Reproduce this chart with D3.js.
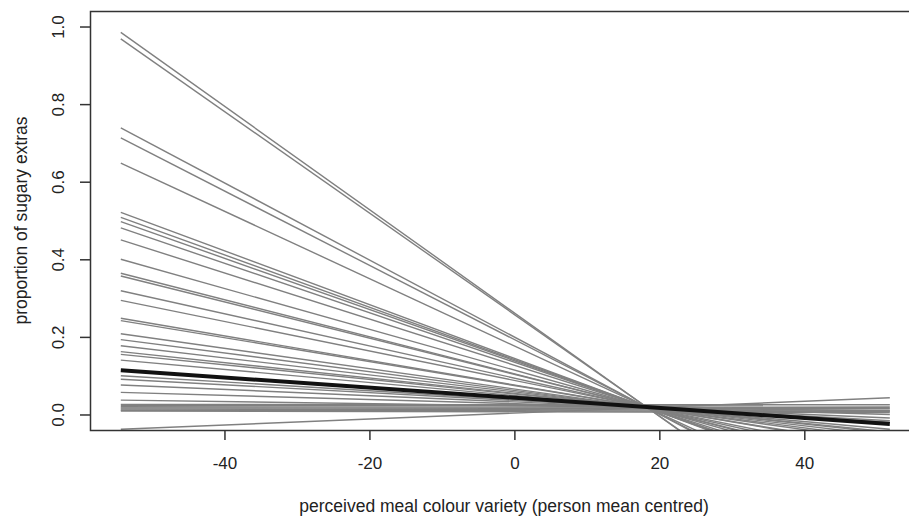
<!DOCTYPE html>
<html>
<head>
<meta charset="utf-8">
<script src="https://cdn.jsdelivr.net/npm/d3@7"></script>
<style>
    body { margin: 0; background: #fff; }
    svg text { font-family: "Liberation Sans", Arial, sans-serif; fill: #222; }
</style>
</head>
<body>
<div id="chart"></div>
<script>

// x positions where every person line starts and ends
var lineX = [-54.3, 51.8];

// predicted proportion at the left end of each person line
var personStart = [
    0.985, 0.968, 0.739, 0.713, 0.648, 0.521, 0.508, 0.497, 0.481, 0.450,
    0.400, 0.364, 0.357, 0.319, 0.294, 0.248, 0.242, 0.208, 0.193, 0.177,
    0.162, 0.155, 0.140, 0.100, 0.091, 0.076, 0.057, 0.037,
    0.026, 0.023, 0.020, 0.017, 0.014, 0.011, 0.009, -0.038
];

// predicted proportion at the right end of each person line
var personEnd = [
    -0.428, -0.420, -0.315, -0.303, -0.273, -0.214, -0.208, -0.203, -0.196, -0.181,
    -0.158, -0.142, -0.138, -0.121, -0.109, -0.088, -0.085, -0.070, -0.063, -0.055,
    -0.048, -0.045, -0.038, -0.020, -0.016, -0.009, 0.000, 0.009,
    0.025, 0.022, 0.018, 0.015, 0.011, 0.008, 0.005, 0.043
];

// fixed-effect (average) line, left and right end
var meanLine = [0.114, -0.0245];

// tick labels
var xTicks = [-40, -20, 0, 20, 40];
var yTicks = [0, 0.2, 0.4, 0.6, 0.8, 1.0];

var xlab = "perceived meal colour variety (person mean centred)";
var ylab = "proportion of sugary extras";


// core settings
var cfg = {
    w: 909,
    h: 517,
    left: 90, // plot box edges
    right: 921,
    top: 11,
    bottom: 430,
    tick: 10,
    font: 17,
    grey: "#808080"
};

var svg = d3.select("#chart").append("svg")
        .attr("width", cfg.w).attr("height", cfg.h);

// scales, padded like R's 4% axis extension
var xscale = d3.scaleLinear().domain([-58.55, 56.1]).range([cfg.left, cfg.right]);
var yscale = d3.scaleLinear().domain([-0.04, 1.04]).range([cfg.bottom, cfg.top]);

// clip lines to plot box
svg.append("clipPath").attr("id", "box")
        .append("rect")
        .attr("x", cfg.left).attr("y", cfg.top)
        .attr("width", cfg.right - cfg.left).attr("height", cfg.bottom - cfg.top);

var line = d3.line()
        .x(function (d) { return xscale(d[0]); })
        .y(function (d) { return yscale(d[1]); });

var persons = personStart.map(function (v, i) {
    return [[lineX[0], v], [lineX[1], personEnd[i]]];
});

var g = svg.append("g").attr("clip-path", "url(#box)");

g.selectAll(".person").data(persons).enter().append("path")
        .attr("class", "person")
        .attr("d", line)
        .attr("fill", "none")
        .attr("stroke", cfg.grey)
        .attr("stroke-width", 1.4);

g.append("path")
        .attr("d", line([[lineX[0], meanLine[0]], [lineX[1], meanLine[1]]]))
        .attr("fill", "none")
        .attr("stroke", "#111")
        .attr("stroke-width", 4);

// plot box
svg.append("rect")
        .attr("x", cfg.left + 0.5).attr("y", cfg.top + 0.5)
        .attr("width", cfg.right - cfg.left).attr("height", cfg.bottom - cfg.top)
        .attr("fill", "none").attr("stroke", "#333").attr("stroke-width", 1.5);

// x axis
var xaxis = d3.axisBottom(xscale).tickValues(xTicks)
        .tickSize(cfg.tick).tickPadding(17).tickFormat(d3.format("d"));
var gx = svg.append("g").attr("transform", "translate(0," + cfg.bottom + ")").call(xaxis);
gx.select("path.domain").remove();
gx.selectAll("line").attr("stroke", "#333").attr("stroke-width", 1.5);
gx.selectAll("text").attr("font-size", cfg.font).attr("fill", "#222")
        .text(function (d) { return d < 0 ? "-" + Math.abs(d) : d; });

// y axis
var yaxis = d3.axisLeft(yscale).tickValues(yTicks)
        .tickSize(cfg.tick).tickPadding(0).tickFormat(d3.format(".1f"));
var gy = svg.append("g").attr("transform", "translate(" + cfg.left + ",0)").call(yaxis);
gy.select("path.domain").remove();
gy.selectAll("line").attr("stroke", "#333").attr("stroke-width", 1.5);
gy.selectAll("text").attr("font-size", cfg.font).attr("fill", "#222")
        .attr("text-anchor", "middle").attr("dy", 0)
        .attr("x", 0).attr("y", 0)
        .attr("transform", "translate(-30,0) rotate(-90)")
        .attr("dominant-baseline", "middle");

// axis titles
svg.append("text").text(xlab)
        .attr("x", 504).attr("y", 512)
        .attr("text-anchor", "middle").attr("font-size", 17.5);

svg.append("text").text(ylab)
        .attr("transform", "translate(22," + ((cfg.top + cfg.bottom) / 2) + ") rotate(-90)")
        .attr("text-anchor", "middle").attr("dominant-baseline", "middle")
        .attr("font-size", 17.5);

</script>
</body>
</html>
